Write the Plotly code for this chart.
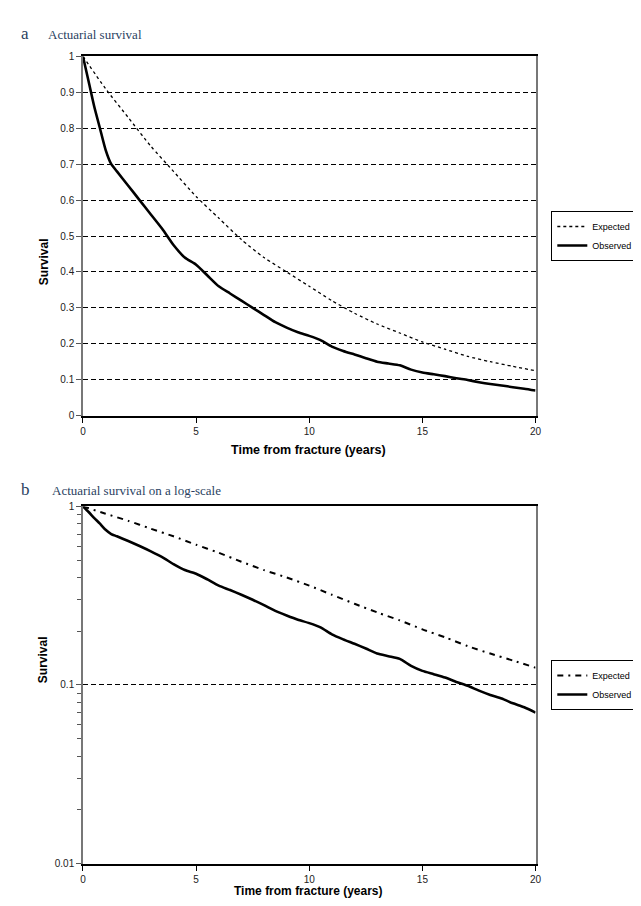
import plotly.graph_objects as go

# ---- data ----
obs_years = [0, 0.25, 0.5, 0.75, 1, 1.25, 1.5, 2, 2.5, 3, 3.5, 4, 4.5, 5, 5.5, 6, 6.5, 7, 7.5,
             8, 8.5, 9, 9.5, 10, 10.5, 11, 11.5, 12, 12.5, 13, 13.5, 14, 14.5, 15, 15.5, 16,
             16.5, 17, 17.5, 18, 18.5, 19, 19.5, 20]
observed = [1.0, 0.93, 0.86, 0.80, 0.74, 0.70, 0.68, 0.64, 0.60, 0.56, 0.52, 0.475, 0.44, 0.42,
            0.39, 0.36, 0.34, 0.32, 0.30, 0.28, 0.26, 0.245, 0.232, 0.222, 0.21, 0.192, 0.18,
            0.17, 0.16, 0.15, 0.145, 0.14, 0.128, 0.12, 0.115, 0.11, 0.104, 0.099, 0.093,
            0.088, 0.084, 0.079, 0.075, 0.07]

exp_years = [0, 1, 2, 3, 4, 5, 6, 7, 8, 9, 10, 11, 12, 13, 14, 15, 16, 17, 18, 19, 20]
expected = [1.0, 0.91, 0.83, 0.75, 0.68, 0.61, 0.55, 0.49, 0.44, 0.40, 0.36, 0.32, 0.285,
            0.255, 0.23, 0.205, 0.185, 0.165, 0.15, 0.137, 0.125]

x_ticks = [0, 5, 10, 15, 20]
lin_ticks = [0, 0.1, 0.2, 0.3, 0.4, 0.5, 0.6, 0.7, 0.8, 0.9, 1]
log_ticks = [0.01, 0.1, 1]
log_tick_text = ["0.01", "0.1", "1"]

W, H = 641, 906
def px(x):
    return x / W
def py(y):
    return 1 - y / H

fig = go.Figure()

# panel a
fig.add_trace(go.Scatter(x=exp_years, y=expected, name="Expected", mode="lines",
                         xaxis="x", yaxis="y", legend="legend",
                         line=dict(color="black", width=1.3, dash="3px,3px", shape="spline", smoothing=0.6)))
fig.add_trace(go.Scatter(x=obs_years, y=observed, name="Observed", mode="lines",
                         xaxis="x", yaxis="y", legend="legend",
                         line=dict(color="black", width=2.6, shape="spline", smoothing=0.6)))
# panel b
fig.add_trace(go.Scatter(x=exp_years, y=expected, name="Expected", mode="lines",
                         xaxis="x2", yaxis="y2", legend="legend2",
                         line=dict(color="black", width=2, dash="6px,5px,2px,5px", shape="spline", smoothing=0.6)))
fig.add_trace(go.Scatter(x=obs_years, y=observed, name="Observed", mode="lines",
                         xaxis="x2", yaxis="y2", legend="legend2",
                         line=dict(color="black", width=2.6, shape="spline", smoothing=0.6)))

tickfont = dict(family="Liberation Sans, Arial", size=10, color="#222")
xa = dict(range=[0, 20], tickvals=x_ticks, ticks="outside", ticklen=5, tickcolor="black",
          tickwidth=1, showline=True, linecolor="black", linewidth=2, mirror=True,
          showgrid=False, zeroline=False, tickfont=tickfont, fixedrange=True)

fig.update_layout(
    width=W, height=H, margin=dict(l=0, r=0, t=0, b=0),
    paper_bgcolor="white", plot_bgcolor="white",
    xaxis=dict(xa, domain=[px(73), px(532)], anchor="y"),
    yaxis=dict(range=[0, 1], tickvals=lin_ticks, domain=[py(407), py(43)], anchor="x",
               ticks="outside", ticklen=5, tickcolor="#555", showline=True, linecolor="#777",
               linewidth=1.5, mirror=True, showgrid=True, gridcolor="black", gridwidth=1,
               griddash="5px,3px", zeroline=False, tickfont=tickfont),
    xaxis2=dict(xa, domain=[px(73), px(532)], anchor="y2"),
    yaxis2=dict(type="log", range=[-2, 0], tickvals=log_ticks, ticktext=log_tick_text,
                domain=[py(861), py(499)], anchor="x2",
                ticks="outside", ticklen=5, tickcolor="#555", showline=True, linecolor="#777",
                linewidth=1.5, mirror=True, showgrid=True, gridcolor="black", gridwidth=1,
                griddash="5px,3px", zeroline=False, tickfont=tickfont,
                minor=dict(ticks="outside", ticklen=4, tickcolor="#555", dtick="D1", showgrid=False)),
    legend=dict(x=px(548), y=py(225), xanchor="left", yanchor="middle",
                bordercolor="black", borderwidth=1, bgcolor="white",
                font=dict(family="Liberation Sans, Arial", size=9, color="black"),
                itemwidth=30, tracegroupgap=0),
    legend2=dict(x=px(548), y=py(680), xanchor="left", yanchor="middle",
                 bordercolor="black", borderwidth=1, bgcolor="white",
                 font=dict(family="Liberation Sans, Arial", size=9, color="black"),
                 itemwidth=30, tracegroupgap=0),
    showlegend=True,
)

serif = "Liberation Serif, Times New Roman"
bold = "Liberation Sans, Arial"
ann = [
    dict(text="a", x=px(8), y=py(20), font=dict(family=serif, size=17)),
    dict(text="Actuarial survival", x=px(35), y=py(21), font=dict(family=serif, size=13)),
    dict(text="b", x=px(8), y=py(482), font=dict(family=serif, size=17)),
    dict(text="Actuarial survival on a log-scale", x=px(40), y=py(483), font=dict(family=serif, size=13)),
]
for a in ann:
    fig.add_annotation(xref="paper", yref="paper", xanchor="left", yanchor="middle",
                       showarrow=False, **a)
# axis titles
fig.add_annotation(text="<b>Survival</b>", x=px(24), y=py(225), xref="paper", yref="paper",
                   textangle=-90, showarrow=False, font=dict(family=bold, size=12, color="black"))
fig.add_annotation(text="<b>Survival</b>", x=px(24), y=py(680), xref="paper", yref="paper",
                   textangle=-90, showarrow=False, font=dict(family=bold, size=12, color="black"))
fig.add_annotation(text="<b>Time from fracture (years)</b>", x=px(302), y=py(442), xref="paper",
                   yref="paper", showarrow=False, font=dict(family=bold, size=12.5, color="black"))
fig.add_annotation(text="<b>Time from fracture (years)</b>", x=px(302), y=py(898), xref="paper",
                   yref="paper", showarrow=False, font=dict(family=bold, size=12, color="black"))

fig.write_html("out.html")
